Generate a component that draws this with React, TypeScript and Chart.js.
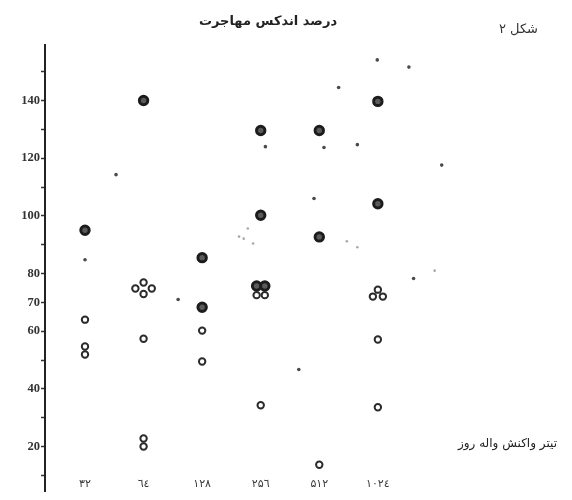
import React, { useEffect, useRef } from 'react';
import { Chart, registerables } from 'chart.js';

Chart.register(...registerables);

// Category (antibody titre) labels on the x axis
const categories = ['۳۲', '٦٤', '۱۲۸', '۲۵٦', '۵۱۲', '۱۰۲٤'];

// y-axis tick values and the ones that carry a label
const yTickValues = [10, 20, 30, 40, 50, 60, 70, 80, 90, 100, 110, 120, 130, 140, 150];
const yLabelled = [20, 40, 60, 70, 80, 100, 120, 140];

// Solid (filled) markers
const filledX = [0, 1, 2, 2, 3, 3, 4, 4, 5, 5, 2.93, 3.07];
const filledY = [95, 140, 85.5, 68.3, 129.6, 100.2, 129.6, 92.7, 139.7, 104.2, 75.7, 75.7];

// Open ring markers
const ringX = [0, 0, 0, 1, 0.86, 1.14, 1, 1, 1, 1, 2, 2, 2.93, 3.07, 3, 4, 5, 4.915, 5.085, 5, 5];
const ringY = [64, 54.7, 51.9, 76.9, 74.8, 74.8, 72.9, 57.4, 22.8, 20, 60.2, 49.5, 72.5, 72.5, 34.3, 13.7, 74.4, 72, 72, 57.1, 33.6];

// Small specks
const smallX = [0.53, 0, 1.59, 3.08, 4.08, 4.65, 4.33, 5.53, 4.99, 6.09, 3.91, 3.65, 5.61];
const smallY = [114.3, 84.8, 71, 124, 123.7, 124.7, 144.5, 151.6, 154.1, 117.6, 106, 46.7, 78.3];

// Faint specks
const faintX = [2.78, 2.63, 2.71, 2.87, 4.47, 4.65, 5.97];
const faintY = [95.6, 92.8, 92.1, 90.4, 91.2, 89.1, 81];

// value on the y scale along which the titre labels run
const xAxisAtY = 12;

const titleText = 'درصد اندکس مهاجرت';
const figureText = 'شکل ۲';
const xAxisText = 'تیتر واکنش واله روز';

const pts = (xs: number[], ys: number[]) => xs.map((x, i) => ({ x, y: ys[i] }));

export default function App() {
  const ref = useRef<HTMLCanvasElement | null>(null);

  useEffect(() => {
    if (!ref.current) return;
    const chart = new Chart(ref.current, {
      type: 'scatter',
      data: {
        datasets: [
          {
            label: 'faint',
            data: pts(faintX, faintY),
            pointRadius: 1.3,
            pointBackgroundColor: '#a8a8a8',
            pointBorderWidth: 0,
          },
          {
            label: 'small',
            data: pts(smallX, smallY),
            pointRadius: 1.8,
            pointBackgroundColor: '#4a4a4a',
            pointBorderWidth: 0,
          },
          {
            label: 'rings',
            data: pts(ringX, ringY),
            pointRadius: 3.2,
            pointBackgroundColor: '#ffffff',
            pointBorderColor: '#2b2b2b',
            pointBorderWidth: 2,
          },
          {
            label: 'filled',
            data: pts(filledX, filledY),
            pointRadius: 4.2,
            pointBackgroundColor: '#5a5a5a',
            pointBorderColor: '#1c1c1c',
            pointBorderWidth: 3,
          },
        ],
      },
      options: {
        responsive: false,
        animation: false,
        layout: { padding: { left: 0, right: 36, top: 0, bottom: 8 } },
        plugins: {
          legend: { display: false },
          tooltip: { enabled: false },
          title: {
            display: true,
            text: titleText,
            color: '#222',
            font: { family: 'DejaVu Sans', size: 13, weight: 'bold', lineHeight: 1.2 },
            padding: { top: 14, bottom: 15 },
          },
        },
        scales: {
          x: {
            type: 'linear',
            position: { y: xAxisAtY },
            min: -0.683,
            max: 7.7,
            grid: { display: false },
            border: { display: false },
            afterBuildTicks: (s: any) => {
              s.ticks = categories.map((_, i) => ({ value: i }));
            },
            ticks: {
              padding: 0,
              color: '#3a3a3a',
              font: { family: 'DejaVu Sans', size: 11 },
              maxRotation: 0,
              autoSkip: false,
              callback: (v: any) => categories[Math.round(Number(v))] ?? '',
            },
          },
          y: {
            type: 'linear',
            min: 4.4,
            max: 159.4,
            afterBuildTicks: (s: any) => {
              s.ticks = yTickValues.map((v) => ({ value: v }));
            },
            afterFit: (s: any) => {
              s.width = 45;
            },
            border: { display: true, color: '#222', width: 2 },
            grid: {
              display: true,
              drawOnChartArea: false,
              drawTicks: true,
              tickLength: 4,
              tickColor: '#333',
              tickWidth: 1.5,
            },
            ticks: {
              padding: 1,
              color: '#333',
              font: { family: 'Liberation Serif', size: 12.5, weight: 'bold' },
              callback: (v: any) => (yLabelled.includes(Number(v)) ? String(v) : ''),
            },
          },
        },
      },
    });
    return () => chart.destroy();
  }, []);

  return (
    <div style={{ position: 'fixed', left: 0, top: 0, width: 572, height: 500, background: '#fff' }}>
      <canvas ref={ref} width={572} height={500} style={{ display: 'block' }} />
      <span
        dir="rtl"
        style={{
          position: 'absolute',
          right: 34,
          top: 21,
          fontFamily: 'DejaVu Sans',
          fontSize: 13,
          color: '#333',
          whiteSpace: 'nowrap',
        }}
      >
        {figureText}
      </span>
      <span
        dir="rtl"
        style={{
          position: 'absolute',
          right: 15,
          top: 436,
          fontFamily: 'DejaVu Sans',
          fontSize: 12,
          color: '#222',
          whiteSpace: 'nowrap',
        }}
      >
        {xAxisText}
      </span>
    </div>
  );
}
